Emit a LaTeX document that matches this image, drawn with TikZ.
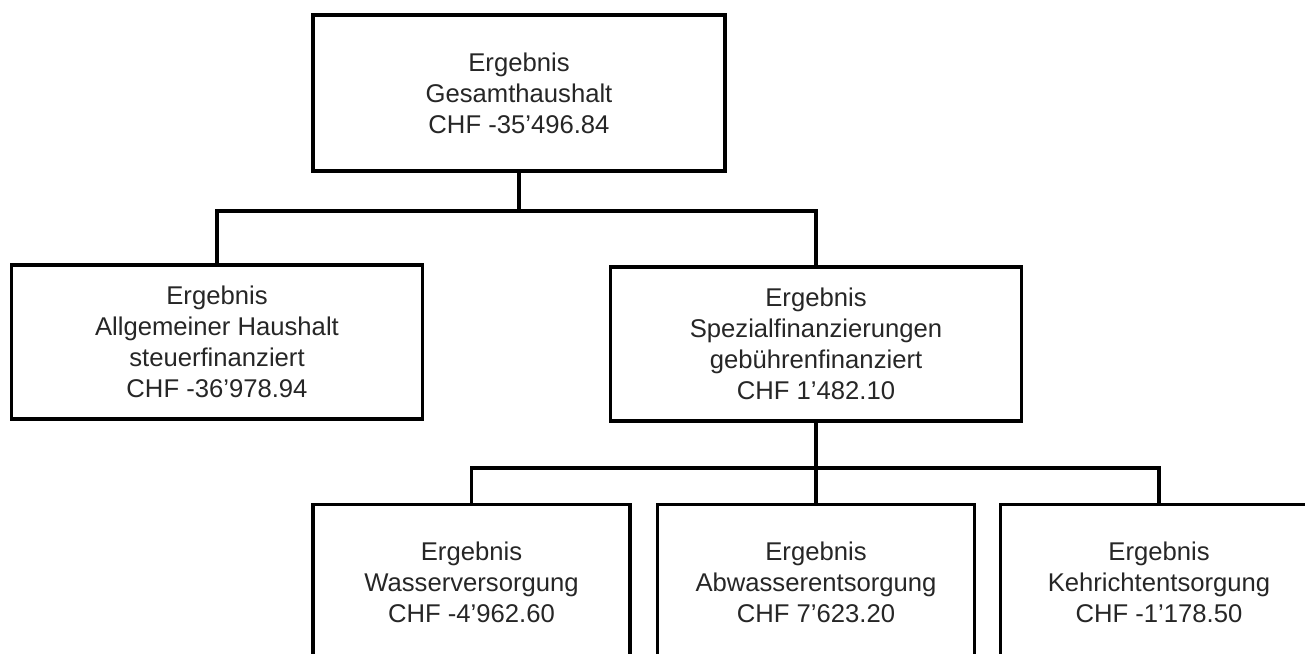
\documentclass[tikz,border=0pt]{standalone}
\usepackage{fontspec}
\setmainfont{Liberation Sans}
\begin{document}
\begin{tikzpicture}[x=0.02cm,y=-0.02cm,
  ergbox/.style={draw,line width=1.9pt,rectangle,align=center,inner sep=0pt,
    font=\fontsize{14.6}{17.6}\selectfont,text=black!85},
  topbox/.style={ergbox,minimum width=8.24cm,minimum height=3.12cm},
  midbox/.style={ergbox,minimum width=8.22cm,minimum height=3.08cm},
  lowbox/.style={ergbox,minimum width=6.34cm,minimum height=3.1cm},
  link/.style={line width=1.9pt}]
\useasboundingbox (0,0) rectangle (1305,653);
\clip (0,0) rectangle (1305,653);

\node[topbox] (gesamt) at (519,93) {Ergebnis\\Gesamthaushalt\\CHF -35'496.84};

\node[midbox] (allg) at (217,342) {Ergebnis\\Allgemeiner Haushalt\\steuerfinanziert\\CHF -36'978.94};
\node[midbox] (spez) at (816,344) {Ergebnis\\Spezialfinanzierungen\\gebührenfinanziert\\CHF 1'482.10};

\node[lowbox] (wasser) at (471.5,582) {Ergebnis\\Wasserversorgung\\CHF -4'962.60};
\node[lowbox] (abw) at (816,582) {Ergebnis\\Abwasserentsorgung\\CHF 7'623.20};
\node[lowbox] (kehr) at (1159,582) {Ergebnis\\Kehrichtentsorgung\\CHF -1'178.50};

\coordinate (j1) at (519,211);
\coordinate (j2) at (816,468);

\draw[link] (gesamt.south) -- (j1);
\draw[link] (allg.north) |- (j1) -| (spez.north);

\draw[link] (spez.south) -- (abw.north);
\draw[link] (wasser.north) |- (j2) -| (kehr.north);
\end{tikzpicture}
\end{document}
